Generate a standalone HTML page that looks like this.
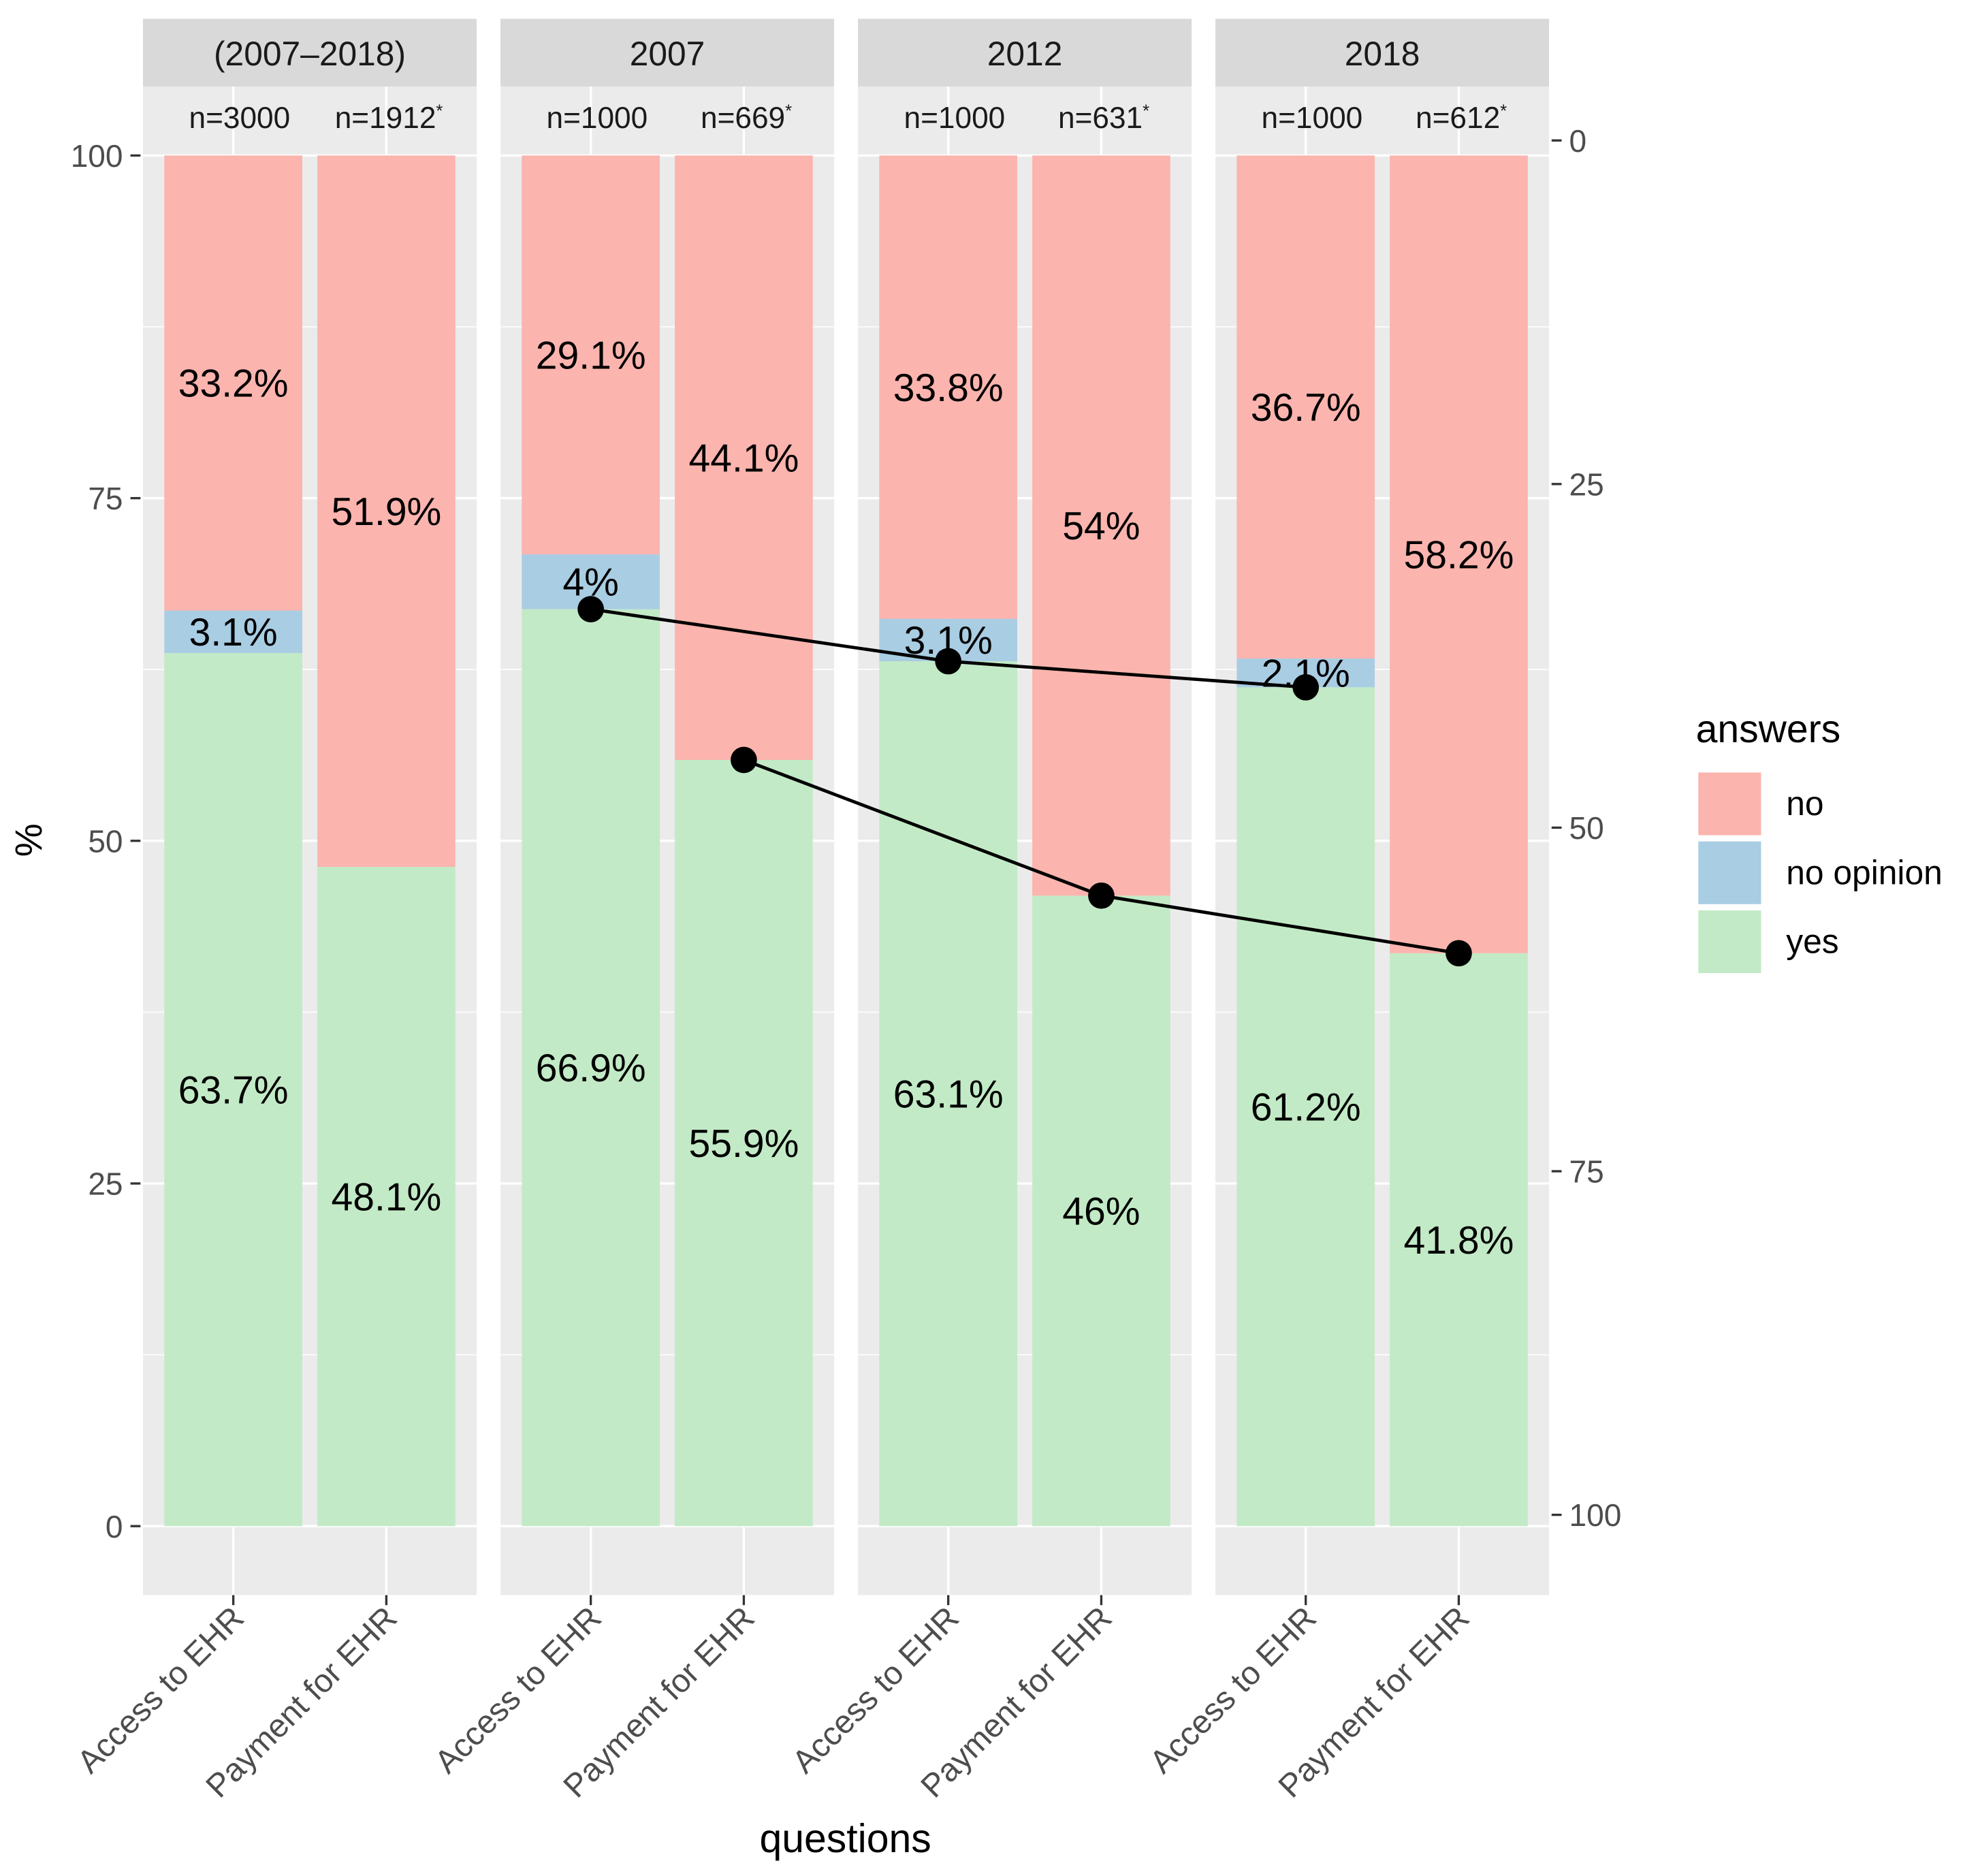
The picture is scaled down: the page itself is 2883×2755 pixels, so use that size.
<!DOCTYPE html>
<html><head><meta charset="utf-8"><style>
html,body{margin:0;padding:0;background:#fff}
svg{display:block}
text{font-family:"Liberation Sans",sans-serif}
</style></head><body>
<svg id="chart" width="2883" height="2755" viewBox="0 0 1565 1496" preserveAspectRatio="none" xmlns="http://www.w3.org/2000/svg"></svg>
<script>
const panels = ["(2007\u20132018)","2007","2012","2018"];
const questions = ["Access to EHR","Payment for EHR"];
const nLabels = ["n=3000","n=1912","n=1000","n=669","n=1000","n=631","n=1000","n=612"];
const nStar = [false,true,false,true,false,true,false,true];
const yesVals = [63.7,48.1,66.9,55.9,63.1,46,61.2,41.8];
const noOpVals = [3.1,0,4,0,3.1,0,2.1,0];
const noVals = [33.2,51.9,29.1,44.1,33.8,54,36.7,58.2];
const yTicks = [0,25,50,75,100];
const yTicks2 = [0,25,50,75,100];

const svg = document.getElementById('chart');
const NS = 'http://www.w3.org/2000/svg';
function mk(tag, attrs, parent){const e=document.createElementNS(NS,tag);for(const k in attrs)e.setAttribute(k,attrs[k]);(parent||svg).appendChild(e);return e;}
const panelX0 = 114, panelStep = 285, panelW = 266;
const y = v => 1217 - v*10.93;
const y2 = v => 112 + v*10.96;
const xc = (p,q) => panelX0 + p*panelStep + 72 + q*122;
const barW = 110;
const cNo = '#fbb4ae', cNoOp = '#a9cde3', cYes = '#c2eac6';

panels.forEach((name,p)=>{
  const x0 = panelX0 + p*panelStep;
  const bg = mk('rect',{x:x0,y:69,width:panelW,height:1203,fill:'#ebebeb'});
  
  
  for(let v=12.5; v<100; v+=25){ const l=mk('line',{x1:x0,x2:x0+panelW,y1:y(v),y2:y(v),stroke:'#fff','stroke-width':0.8});   }
  yTicks.forEach(v=>{ const l=mk('line',{x1:x0,x2:x0+panelW,y1:y(v),y2:y(v),stroke:'#fff','stroke-width':1.8});   });
  questions.forEach((q,qi)=>{ const l=mk('line',{x1:xc(p,qi),x2:xc(p,qi),y1:69,y2:1272,stroke:'#fff','stroke-width':1.8});   });
  const st = mk('rect',{x:x0,y:15,width:panelW,height:54,fill:'#d9d9d9'});
  
  
  const stt = mk('text',{x:x0+panelW/2,y:52,'text-anchor':'middle','font-size':27,fill:'#1a1a1a'});
  stt.textContent = name;
  
  
});

for(let i=0;i<8;i++){
  const p=Math.floor(i/2), q=i%2, cx=xc(p,q);
  const segs=[[0,yesVals[i],cYes,'yes'],[yesVals[i],noOpVals[i],cNoOp,'no-opinion'],[yesVals[i]+noOpVals[i],noVals[i],cNo,'no']];
  segs.forEach(s=>{
    if(s[1]<=0) return;
    const r=mk('rect',{x:cx-barW/2,y:y(s[0]+s[1]),width:barW,height:y(s[0])-y(s[0]+s[1]),fill:s[2]});
    
    
  });
  segs.forEach(s=>{
    if(s[1]<=0) return;
    const t=mk('text',{x:cx,y:y(s[0]+s[1]/2)+11,'text-anchor':'middle','font-size':31,fill:'#000'});
    t.textContent = s[1]+'%';
    
    
  });
  const nt=mk('text',{x:cx+(nStar[i]?2:5),y:102,'text-anchor':'middle','font-size':24,fill:'#1a1a1a'});
  nt.textContent=nLabels[i];
  if(nStar[i]){ const ts=mk('tspan',{'font-size':14,dy:-9},nt); ts.textContent='*'; }
  
  
  const tk=mk('line',{x1:cx,x2:cx,y1:1272,y2:1280,stroke:'#333','stroke-width':1.8});
  
  
  const xl=mk('text',{x:0,y:0,'text-anchor':'end','font-size':26,fill:'#4d4d4d',transform:'translate('+(cx+10)+',1292) rotate(-45)'});
  xl.textContent=questions[q];
  
  
}

[0,1].forEach(q=>{
  const pts=[1,2,3].map(p=>[xc(p,q), y(yesVals[p*2+q])]);
  const pl=mk('polyline',{points:pts.map(a=>a.join(',')).join(' '),fill:'none',stroke:'#000','stroke-width':2.6});
  
  
  pts.forEach(a=>{ const c=mk('circle',{cx:a[0],cy:a[1],r:10.5,fill:'#000'});   });
});

yTicks.forEach(v=>{
  const l=mk('line',{x1:104,x2:112,y1:y(v),y2:y(v),stroke:'#333','stroke-width':1.8});
  
  
  const t=mk('text',{x:98,y:y(v)+9,'text-anchor':'end','font-size':25,fill:'#4d4d4d'});
  t.textContent=v;
  
  
});
yTicks2.forEach(v=>{
  const l=mk('line',{x1:1237,x2:1245,y1:y2(v),y2:y2(v),stroke:'#333','stroke-width':1.8});
  
  
  const t=mk('text',{x:1251,y:y2(v)+9,'font-size':25,fill:'#4d4d4d'});
  t.textContent=v;
  
  
});

const yt=mk('text',{x:0,y:0,'text-anchor':'middle','font-size':30,fill:'#000',transform:'translate(33,670) rotate(-90)'});
yt.textContent='%';


const xt=mk('text',{x:674,y:1477,'text-anchor':'middle','font-size':32,fill:'#000'});
xt.textContent='questions';



const lt=mk('text',{x:1352,y:592,'font-size':31,fill:'#000'});
lt.textContent='answers';


[['no',cNo],['no opinion',cNoOp],['yes',cYes]].forEach((e,i)=>{
  const r=mk('rect',{x:1354,y:616+i*55,width:50,height:50,fill:e[1]});
  
  
  const t=mk('text',{x:1424,y:650+i*55,'font-size':27,fill:'#000'});
  t.textContent=e[0];
  
  
});
</script>
</body></html>
